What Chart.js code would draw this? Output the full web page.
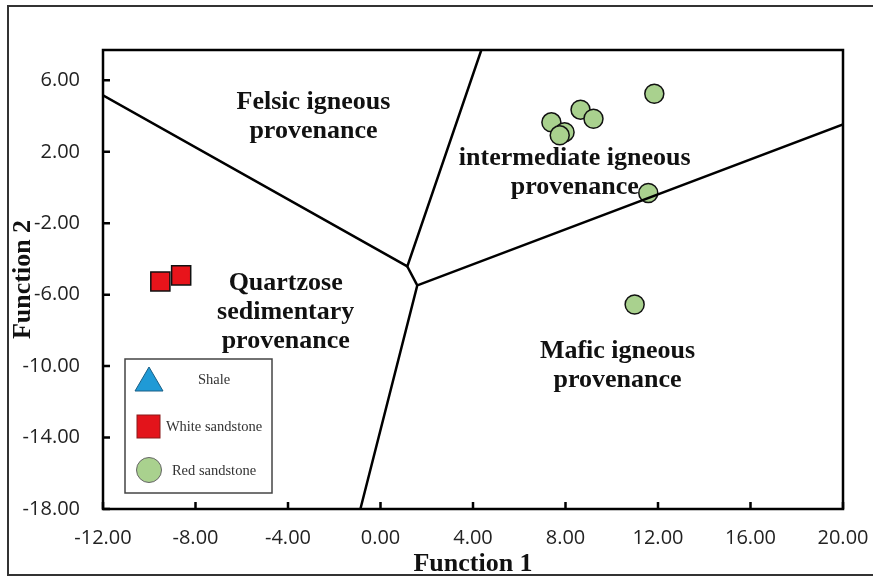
<!DOCTYPE html>
<html>
<head>
<meta charset="utf-8">
<script src="https://cdn.jsdelivr.net/npm/chart.js@4"></script>
<style>
  body { margin: 0; background: #fff; }
  canvas { display: block; }
</style>
</head>
<body>
<canvas id="chart" width="873" height="577"></canvas>
<script>
// Samples (Function 1, Function 2)
const whiteSandstoneX = [-9.52, -8.62];
const whiteSandstoneY = [-5.26, -4.92];
const redSandstoneX = [11.84, 8.65, 9.21, 7.39, 7.96, 7.75, 11.58, 10.99];
const redSandstoneY = [5.25, 4.36, 3.85, 3.65, 3.10, 2.92, -0.31, -6.55];

// Field boundaries
const boundaryAX = [-12, 1.16, 4.36];
const boundaryAY = [5.16, -4.42, 7.7];
const boundaryBX = [1.16, 1.59];
const boundaryBY = [-4.42, -5.48];
const boundaryCX = [20, 1.59, -0.87];
const boundaryCY = [3.54, -5.48, -18];

// Field names and their anchor (x, y)
const fieldNames = [
  ["Felsic igneous", "provenance"],
  ["intermediate igneous", "provenance"],
  ["Quartzose", "sedimentary", "provenance"],
  ["Mafic igneous", "provenance"]
];
const fieldX = [-2.9, 8.4, -4.1, 10.25];
const fieldY = [3.95, 0.85, -7.0, -10.0];

const xTicks = [-12, -8, -4, 0, 4, 8, 12, 16, 20];
const yTicks = [-18, -14, -10, -6, -2, 2, 6];
const legendLabels = ["Shale", "White sandstone", "Red sandstone"];

const toPoints = (xs, ys) => xs.map((x, i) => ({ x: x, y: ys[i] }));

const lineStyle = {
  showLine: true,
  pointRadius: 0,
  borderColor: "#000",
  borderWidth: 2.5,
  fill: false
};

// frame, plot border, inside ticks, field names, legend box
const decorations = {
  id: "decorations",
  beforeDraw(chart) {
    const c = chart.ctx;
    c.save();
    c.fillStyle = "#fff";
    c.fillRect(0, 0, chart.width, chart.height);
    c.strokeStyle = "#333";
    c.lineWidth = 2;
    c.strokeRect(8, 6, 900, 569);
    c.restore();
  },
  beforeDatasetsDraw(chart) {
    const c = chart.ctx;
    const a = chart.chartArea;
    const xs = chart.scales.x, ys = chart.scales.y;
    c.save();
    c.strokeStyle = "#000";
    c.lineWidth = 2.5;
    c.strokeRect(a.left, a.top, a.right - a.left, a.bottom - a.top);
    c.beginPath();
    xTicks.forEach(v => {
      const px = xs.getPixelForValue(v);
      c.moveTo(px, a.bottom);
      c.lineTo(px, a.bottom - 7);
    });
    yTicks.forEach(v => {
      const py = ys.getPixelForValue(v);
      c.moveTo(a.left, py);
      c.lineTo(a.left + 7, py);
    });
    c.stroke();

    c.fillStyle = "#111";
    c.font = "bold 26px 'Liberation Serif', 'Times New Roman', serif";
    c.textAlign = "center";
    c.textBaseline = "middle";
    fieldNames.forEach((lines, i) => {
      const cx = xs.getPixelForValue(fieldX[i]);
      const cy = ys.getPixelForValue(fieldY[i]);
      const lh = 29;
      lines.forEach((t, j) => {
        c.fillText(t, cx, cy + (j - (lines.length - 1) / 2) * lh);
      });
    });
    c.restore();
  },
  afterDraw(chart) {
    const c = chart.ctx;
    c.save();
    // legend box
    c.fillStyle = "#fff";
    c.fillRect(125, 359, 147, 134);
    c.strokeStyle = "#444";
    c.lineWidth = 1.5;
    c.strokeRect(125, 359, 147, 134);

    // triangle
    c.beginPath();
    c.moveTo(149, 367);
    c.lineTo(163, 391);
    c.lineTo(135, 391);
    c.closePath();
    c.fillStyle = "#1f9ad6";
    c.fill();
    c.strokeStyle = "#1a5f86";
    c.lineWidth = 1;
    c.stroke();

    // square
    c.fillStyle = "#e3141b";
    c.fillRect(137, 415, 23, 23);
    c.strokeStyle = "#8a1a1a";
    c.strokeRect(137, 415, 23, 23);

    // circle
    c.beginPath();
    c.arc(149, 470, 12.5, 0, Math.PI * 2);
    c.fillStyle = "#a9d18e";
    c.fill();
    c.strokeStyle = "#666";
    c.stroke();

    c.fillStyle = "#333";
    c.font = "14.5px 'Liberation Serif', 'Times New Roman', serif";
    c.textAlign = "center";
    c.textBaseline = "middle";
    const ly = [380, 427, 471];
    legendLabels.forEach((t, i) => c.fillText(t, 214, ly[i]));
    c.restore();
  }
};

new Chart(document.getElementById("chart"), {
  type: "scatter",
  data: {
    datasets: [
      Object.assign({ data: toPoints(boundaryAX, boundaryAY) }, lineStyle),
      Object.assign({ data: toPoints(boundaryBX, boundaryBY) }, lineStyle),
      Object.assign({ data: toPoints(boundaryCX, boundaryCY) }, lineStyle),
      {
        label: "White sandstone",
        data: toPoints(whiteSandstoneX, whiteSandstoneY),
        pointStyle: "rect",
        pointRadius: 13.5,
        backgroundColor: "#e8141b",
        borderColor: "#111",
        borderWidth: 1.5
      },
      {
        label: "Red sandstone",
        data: toPoints(redSandstoneX, redSandstoneY),
        pointStyle: "circle",
        pointRadius: 9.5,
        backgroundColor: "#a9d18e",
        borderColor: "#111",
        borderWidth: 1.5
      }
    ]
  },
  options: {
    responsive: false,
    animation: false,
    devicePixelRatio: 1,
    layout: { padding: { top: 50, right: 30, left: 0, bottom: 0 } },
    plugins: {
      legend: { display: false },
      tooltip: { enabled: false }
    },
    scales: {
      x: {
        type: "linear",
        min: -12,
        max: 20,
        afterBuildTicks: s => { s.ticks = xTicks.map(v => ({ value: v })); },
        afterFit: s => { s.height = 68; s.paddingLeft = 0; s.paddingRight = 0; },
        grid: { display: false, drawTicks: false },
        border: { display: false },
        ticks: {
          padding: 17,
          color: "#222",
          maxRotation: 0,
          font: { family: "'Open Sans', sans-serif", size: 20 },
          callback: v => v.toFixed(2)
        },
        title: {
          display: true,
          text: "Function 1",
          color: "#111",
          padding: { top: 0, bottom: -3 },
          font: { family: "'Liberation Serif', 'Times New Roman', serif", size: 26, weight: "bold" }
        }
      },
      y: {
        type: "linear",
        min: -18,
        max: 7.7,
        afterBuildTicks: s => { s.ticks = yTicks.map(v => ({ value: v })); },
        afterFit: s => { s.width = 103; s.paddingTop = 0; s.paddingBottom = 0; },
        grid: { display: false, drawTicks: false },
        border: { display: false },
        ticks: {
          padding: 23,
          color: "#222",
          font: { family: "'Open Sans', sans-serif", size: 20 },
          callback: v => v.toFixed(2)
        },
        title: {
          display: true,
          text: "Function 2",
          color: "#111",
          padding: { top: 8, bottom: 0 },
          font: { family: "'Liberation Serif', 'Times New Roman', serif", size: 26, weight: "bold" }
        }
      }
    }
  },
  plugins: [decorations]
});
</script>
</body>
</html>
